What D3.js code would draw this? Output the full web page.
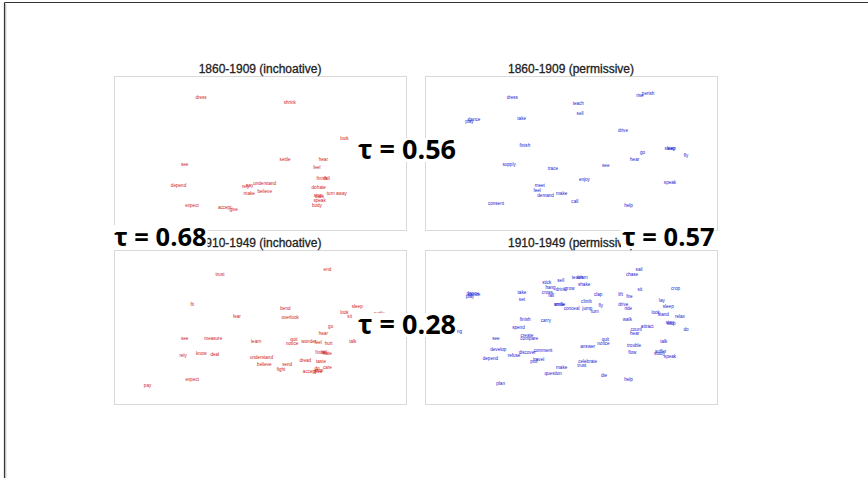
<!DOCTYPE html>
<html>
<head>
<meta charset="utf-8">
<script src="https://cdn.jsdelivr.net/npm/d3@7"></script>
<style>
html,body{margin:0;padding:0;background:#fff;}
svg{display:block;}
</style>
</head>
<body>
<svg id="chart" width="868" height="478"></svg>
<script>
// ---------------- DATA ----------------
const panelTitles = ["1860-1909 (inchoative)", "1860-1909 (permissive)", "1910-1949 (inchoative)", "1910-1949 (permissive)"];
const tauValues = ["0.56", "0.68", "0.57", "0.28"];

// 2-D embedding coordinates (arbitrary units 0-100) of the verbs in each panel
const inch1860 = [
  ["dress",29.8,85.9],["shrink",60.2,82.9],["look",78.9,59.7],["settle",58.6,45.9],
  ["hear",71.7,46.1],["feel",69.5,40.3],["see",24.2,42.6],["depend",22.1,29.2],
  ["finish",71.2,33.5],["fail",72.9,33.3],["understand",51.6,29.9],["rely",45.1,28.1],
  ["say",46.5,28.8],["believe",51.6,25.3],["make",46.3,23.8],["do",68.5,27.9],
  ["hate",71.0,27.5],["turn away",76.3,23.8],["stop",69.9,22.5],["care",70.4,21.6],
  ["speak",70.4,19.0],["body",69.5,15.6],["expect",26.7,16.0],["accept",37.9,14.9],
  ["give",41.0,13.2],["try",89.8,48.5]
];
const perm1860 = [
  ["dress",29.9,85.9],["teach",52.5,82.0],["perish",76.4,88.5],["rise",73.6,87.4],
  ["sell",53.1,75.5],["take",33.1,72.7],["dance",16.8,71.6],["play",15.2,70.3],
  ["drive",67.8,64.7],["finish",34.2,55.0],["sleep",83.9,52.8],["stay",84.3,52.6],
  ["fly",89.4,48.3],["go",74.5,50.4],["hear",71.8,46.1],["supply",28.8,42.4],
  ["trace",43.8,39.8],["see",61.9,42.0],["enjoy",54.6,32.9],["speak",83.9,31.0],
  ["meet",39.3,28.8],["feel",38.4,25.5],["demand",41.3,22.7],["make",46.8,23.8],
  ["call",51.3,18.2],["consent",24.3,17.3],["help",69.7,15.6]
];
const inch1910 = [
  ["end",73.1,87.4],["trust",36.3,84.0],["fit",26.8,64.9],["bend",58.7,61.9],
  ["sleep",83.3,63.6],["look",78.9,59.7],["sit",80.7,56.9],["settle",90.9,58.7],
  ["fear",42.1,56.9],["overlook",60.3,56.3],["go",74.2,50.4],["fly",89.3,48.1],
  ["hear",71.7,45.9],["see",24.2,42.4],["measure",34.0,42.4],["learn",48.7,40.5],
  ["quit",61.6,42.0],["notice",61.0,39.4],["wonder",66.7,40.3],["feel",69.9,40.0],
  ["hurt",73.5,39.6],["talk",81.8,40.7],["rely",23.7,31.2],["know",29.9,33.1],
  ["deal",34.5,32.0],["understand",50.5,29.9],["finish",70.8,33.5],["hate",73.1,33.1],
  ["fail",72.0,33.2],["dread",65.5,28.1],["taste",70.9,27.3],["believe",51.5,25.5],
  ["send",59.3,25.5],["fight",57.2,22.1],["do",69.5,23.2],["care",73.1,23.8],
  ["stop",70.2,21.9],["accept",67.0,20.8],["give",69.8,21.2],["expect",26.8,16.0],
  ["pay",11.5,11.9]
];
const perm1910 = [
  ["sail",73.3,87.4],["chase",70.9,84.4],["teach",52.2,82.0],["learn",54.0,82.2],
  ["sell",46.5,80.1],["stick",41.7,78.8],["shake",54.5,77.9],["hang",43.0,75.5],
  ["drink",46.5,74.1],["grow",49.5,75.1],["cross",41.9,72.7],["fall",43.2,70.3],
  ["take",33.2,72.5],["dance",16.8,71.4],["play",15.4,70.1],["dance",16.4,71.6],
  ["set",33.2,68.0],["clap",59.3,71.4],["lift",67.0,71.4],["fire",70.0,69.7],
  ["sit",73.6,74.5],["crop",85.8,74.7],["climb",55.3,66.7],["fly",60.2,63.9],
  ["drive",67.9,64.7],["ride",69.6,62.1],["smile",45.9,64.5],["smile",46.2,64.3],
  ["conceal",50.2,62.1],["jump",55.6,62.1],["turn",58.2,60.2],["lay",81.1,67.5],
  ["sleep",83.3,63.6],["look",79.0,59.7],["stand",81.6,58.0],["relax",87.3,56.5],
  ["stay",83.9,52.6],["stop",84.3,52.4],["do",89.4,48.7],["walk",69.3,55.0],
  ["attract",76.1,50.2],["count",72.3,48.5],["hear",71.8,46.1],["finish",34.3,54.8],
  ["carry",41.4,54.3],["spend",32.0,49.6],["create",34.9,44.8],["compare",35.7,42.4],
  ["see",24.3,42.4],["ring",11.4,47.4],["quit",61.8,42.0],["notice",61.1,39.4],
  ["answer",55.7,37.2],["trouble",71.6,38.3],["talk",81.8,40.7],["develop",25.1,35.3],
  ["discover",35.0,33.5],["comment",40.4,34.8],["refuse",30.5,31.6],["depend",22.4,29.4],
  ["flow",71.0,33.5],["suffer",80.7,34.0],["study",80.3,32.5],["speak",83.9,31.0],
  ["travel",38.9,28.8],["pull",37.3,27.3],["celebrate",55.7,27.9],["trust",53.7,24.7],
  ["make",46.8,23.8],["question",43.9,19.7],["die",61.3,18.8],["help",69.7,15.6],
  ["plan",25.9,13.6]
];

// ---------------- LAYOUT ----------------
const panels = [
  {data: inch1860, title: panelTitles[0], color: "#d01818", left: 114, top: 76},
  {data: perm1860, title: panelTitles[1], color: "#1818d0", left: 425, top: 76},
  {data: inch1910, title: panelTitles[2], color: "#d01818", left: 114, top: 250},
  {data: perm1910, title: panelTitles[3], color: "#1818d0", left: 425, top: 250}
];
const PW = 292, PH = 154;

const svg = d3.select("#chart");

// slide frame (left and top edges)
svg.append("line").attr("x1", 4.5).attr("y1", 2.5).attr("x2", 868).attr("y2", 2.5)
  .attr("stroke", "#333").attr("stroke-width", 1.2);
svg.append("line").attr("x1", 4.5).attr("y1", 2.5).attr("x2", 4.5).attr("y2", 478)
  .attr("stroke", "#333").attr("stroke-width", 1.2);
svg.append("line").attr("x1", 5.8).attr("y1", 3.8).attr("x2", 5.8).attr("y2", 478)
  .attr("stroke", "#aaa").attr("stroke-width", 0.8);

panels.forEach(p => {
  const x = d3.scaleLinear().domain([0, 100]).range([p.left, p.left + PW]);
  const y = d3.scaleLinear().domain([0, 100]).range([p.top + PH, p.top]);
  const g = svg.append("g");
  g.append("rect").attr("x", p.left + 0.5).attr("y", p.top + 0.5)
    .attr("width", PW).attr("height", PH)
    .attr("fill", "#fff").attr("stroke", "#d9d9d9").attr("stroke-width", 1);
  g.append("text").attr("x", p.left + PW / 2).attr("y", p.top - 3)
    .attr("text-anchor", "middle")
    .attr("font-family", "Liberation Sans, Arial, sans-serif")
    .attr("font-size", 12).attr("fill", "#222")
    .attr("stroke", "#222").attr("stroke-width", 0.3)
    .text(p.title);
  g.selectAll("text.w").data(p.data).join("text").attr("class", "w")
    .attr("x", d => x(d[1])).attr("y", d => y(d[2]) + 1.5)
    .attr("text-anchor", "middle")
    .attr("font-family", "Liberation Sans, Arial, sans-serif")
    .attr("font-size", 4.6).attr("fill", p.color)
    .text(d => d[0]);
});

// tau annotations with white text-box backgrounds
const tauPos = [
  {x: 358, y: 159, s: 27}, {x: 114, y: 246, s: 25.5},
  {x: 622, y: 246, s: 25.5}, {x: 358, y: 334, s: 27}
];
tauValues.forEach((v, i) => {
  const g = svg.append("g");
  const t = g.append("text").attr("x", tauPos[i].x).attr("y", tauPos[i].y)
    .attr("font-family", "Open Sans, sans-serif").attr("font-weight", 700)
    .attr("font-size", tauPos[i].s).attr("fill", "#000")
    .text("\u03c4 = " + v);
  const bb = t.node().getBBox();
  g.insert("rect", "text").attr("x", bb.x - 1).attr("y", tauPos[i].y - 21)
    .attr("width", bb.width + 2).attr("height", 24).attr("fill", "#fff");
});
</script>
</body>
</html>
